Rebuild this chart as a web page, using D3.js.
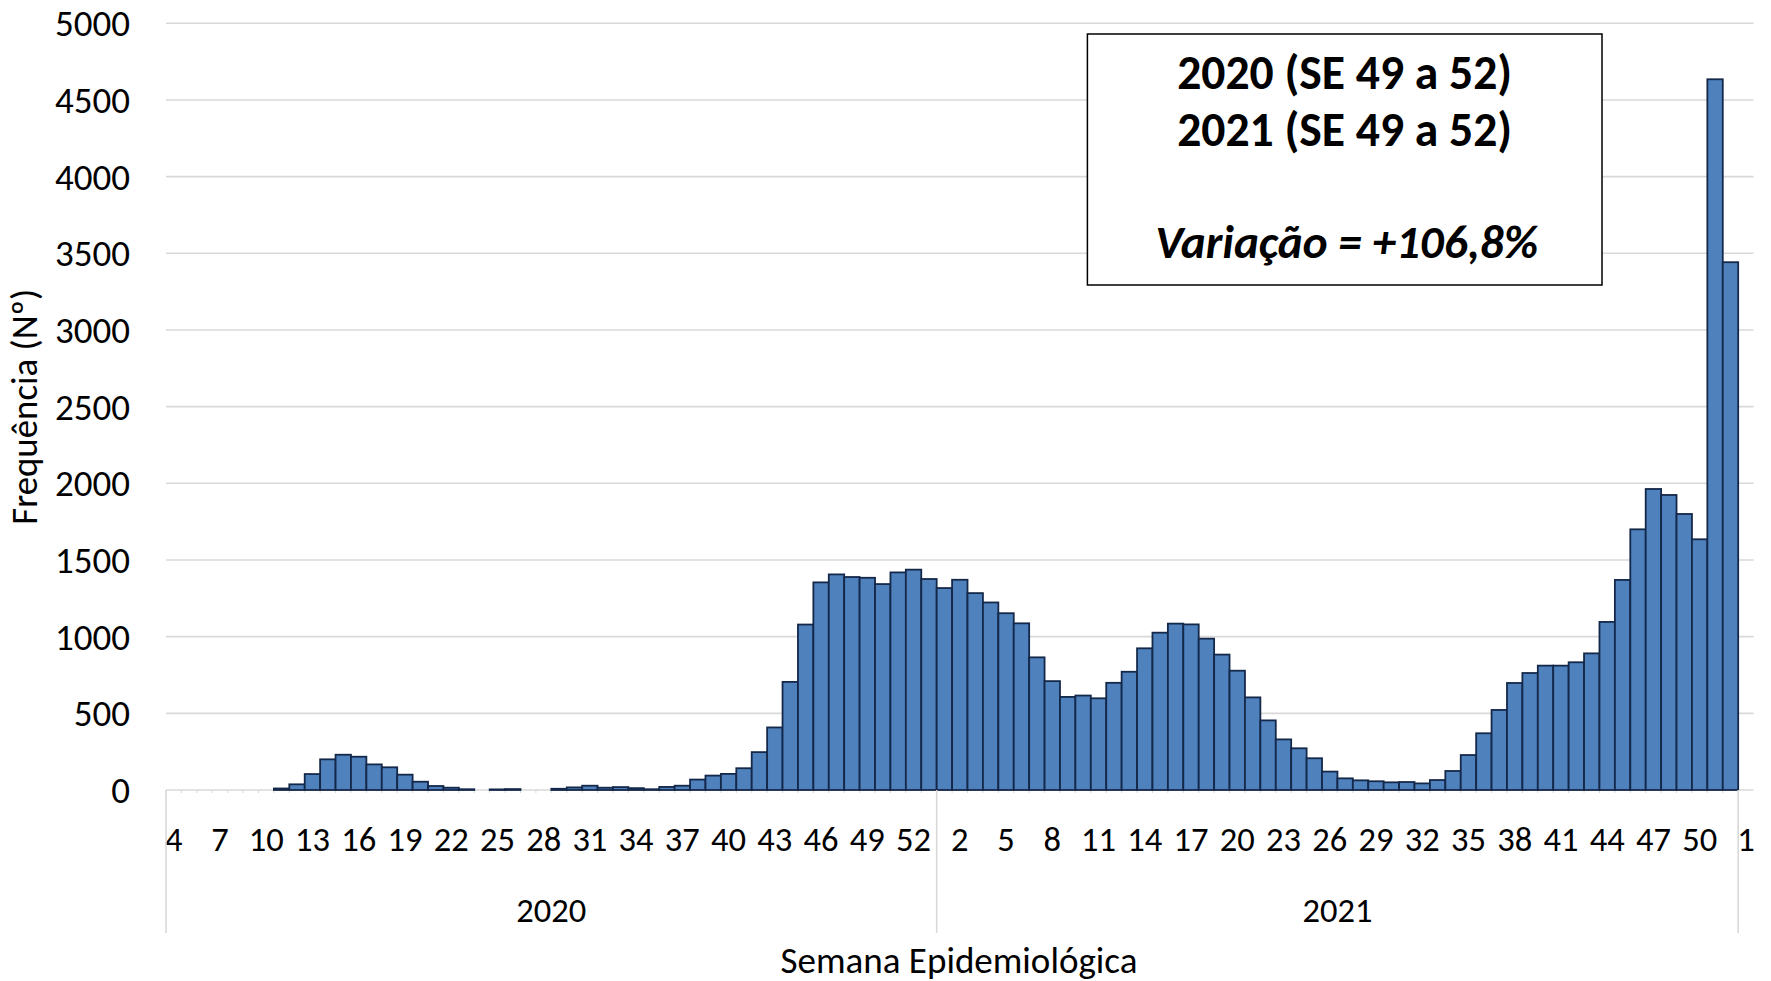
<!DOCTYPE html>
<html>
<head>
<meta charset="utf-8">
<script src="https://cdn.jsdelivr.net/npm/d3@7"></script>
<style>
  html, body { margin: 0; padding: 0; background: #fff; }
  svg { display: block; font-family: Carlito, Calibri, "Open Sans", sans-serif; }
</style>
</head>
<body>
<svg id="chart" width="1771" height="981"></svg>
<script>
// ---------- DATA ----------
const weeks2020 = [4,5,6,7,8,9,10,11,12,13,14,15,16,17,18,19,20,21,22,23,24,25,26,27,28,29,30,31,32,33,34,35,36,37,38,39,40,41,42,43,44,45,46,47,48,49,50,51,52,53];
const values2020 = [null,null,null,null,null,null,null,10,37,104,200,230,217,167,148,100,54,26,15,5,null,4,6,null,null,8,17,28,15,19,12,5,20,28,68,94,105,142,247,408,705,1079,1354,1406,1389,1384,1343,1419,1437,1376];
const weeks2021 = [1,2,3,4,5,6,7,8,9,10,11,12,13,14,15,16,17,18,19,20,21,22,23,24,25,26,27,28,29,30,31,32,33,34,35,36,37,38,39,40,41,42,43,44,45,46,47,48,49,50,51,52];
const values2021 = [1317,1371,1284,1223,1153,1087,865,710,607,616,598,699,771,924,1026,1085,1080,987,883,778,604,454,330,272,207,120,76,63,57,50,52,43,65,124,228,370,522,698,763,811,811,833,891,1096,1370,1700,1963,1924,1800,1635,4635,3442];
const weeks2022 = [1];
const values2022 = [null];
const years = ["2020", "2021", ""];
const yTicks = [0,500,1000,1500,2000,2500,3000,3500,4000,4500,5000];
const boxLines = ["2020 (SE 49 a 52)", "2021 (SE 49 a 52)", "Variação = +106,8%"];
const xTitle = "Semana Epidemiológica";
const yTitle = "Frequência (Nº)";

// ---------- BUILD ----------
const groups = [
  {year: years[0], weeks: weeks2020, values: values2020},
  {year: years[1], weeks: weeks2021, values: values2021},
  {year: years[2], weeks: weeks2022, values: values2022}
];
const cats = [];
groups.forEach((g, gi) => g.weeks.forEach((w, i) => cats.push({g: gi, week: w, value: g.values[i], idx: cats.length})));

const svg = d3.select("#chart");
const plotL = 166, plotR = 1753.6, plotB = 790, plotT = 23.3;
const x = d3.scaleBand().domain(cats.map(d => d.idx)).range([plotL, plotR]).padding(0);
const y = d3.scaleLinear().domain([0, 5000]).range([plotB, plotT]);
const gridColor = "#D9D9D9";

// gridlines
svg.append("g").selectAll("line").data(yTicks).join("line")
  .attr("x1", plotL).attr("x2", plotR)
  .attr("y1", d => y(d)).attr("y2", d => y(d))
  .attr("stroke", gridColor).attr("stroke-width", 1.6);

// small tick marks at category boundaries
svg.append("g").selectAll("line").data(cats).join("line")
  .attr("x1", d => x(d.idx)).attr("x2", d => x(d.idx))
  .attr("y1", plotB).attr("y2", plotB + 3)
  .attr("stroke", gridColor).attr("stroke-width", 1);

// y tick labels
svg.append("g").selectAll("text").data(yTicks).join("text")
  .attr("x", 130).attr("y", d => y(d))
  .attr("dy", "0.35em")
  .attr("text-anchor", "end")
  .attr("font-size", 37).attr("fill", "#000")
  .text(d => d);

// bars
svg.append("g").selectAll("rect").data(cats.filter(d => d.value != null)).join("rect")
  .attr("x", d => x(d.idx)).attr("width", x.bandwidth())
  .attr("y", d => y(d.value)).attr("height", d => y(0) - y(d.value))
  .attr("fill", "#4F81BD").attr("stroke", "#14284A").attr("stroke-width", 1.8);

// x tick labels (every 3rd category)
svg.append("g").selectAll("text").data(cats.filter(d => d.idx % 3 === 0)).join("text")
  .attr("x", d => x(d.idx) + x.bandwidth() / 2).attr("y", 851)
  .attr("text-anchor", "middle")
  .attr("font-size", 34.5).attr("fill", "#000")
  .text(d => d.week);

// group dividers and labels
const groupSpans = groups.map((g, gi) => {
  const members = cats.filter(d => d.g === gi);
  return {label: g.year, x0: x(members[0].idx), x1: x(members[members.length - 1].idx) + x.bandwidth()};
});
const dividers = [groupSpans[0].x0, groupSpans[0].x1, groupSpans[1].x1];
svg.append("g").selectAll("line").data(dividers).join("line")
  .attr("x1", d => d).attr("x2", d => d)
  .attr("y1", plotB).attr("y2", 933)
  .attr("stroke", gridColor).attr("stroke-width", 1.6);
svg.append("g").selectAll("text").data(groupSpans.filter(d => d.label)).join("text")
  .attr("x", d => (d.x0 + d.x1) / 2).attr("y", 922)
  .attr("text-anchor", "middle")
  .attr("font-size", 34.5).attr("fill", "#000")
  .text(d => d.label);

// fit helper
function fit(sel, target) {
  const fs = parseFloat(sel.attr("font-size"));
  const w = sel.node().getComputedTextLength();
  sel.attr("font-size", fs * target / w);
}

// axis titles
const xt = svg.append("text").attr("x", 959).attr("y", 972.5)
  .attr("text-anchor", "middle").attr("font-size", 31).attr("fill", "#000").text(xTitle);
fit(xt, 357);
const yt = svg.append("text").attr("transform", "translate(36.5,406.7) rotate(-90)")
  .attr("text-anchor", "middle").attr("font-size", 31).attr("fill", "#000").text(yTitle);
fit(yt, 236);

// annotation box
svg.append("rect").attr("x", 1087.4).attr("y", 34).attr("width", 514.6).attr("height", 251)
  .attr("fill", "#fff").attr("stroke", "#000").attr("stroke-width", 1.5);
const bx = 1344.7;
const l1 = svg.append("text").attr("x", bx).attr("y", 89).attr("text-anchor", "middle")
  .attr("font-weight", 700).attr("font-size", 38).attr("fill", "#000").text(boxLines[0]);
fit(l1, 335);
svg.append("text").attr("x", bx).attr("y", 145.7).attr("text-anchor", "middle")
  .attr("font-weight", 700).attr("font-size", l1.attr("font-size")).attr("fill", "#000").text(boxLines[1]);
const l3 = svg.append("text").attr("x", bx + 2).attr("y", 258.3).attr("text-anchor", "middle")
  .attr("font-weight", 700).attr("font-style", "italic").attr("font-size", 38).attr("fill", "#000").text(boxLines[2]);
fit(l3, 383);
</script>
</body>
</html>
